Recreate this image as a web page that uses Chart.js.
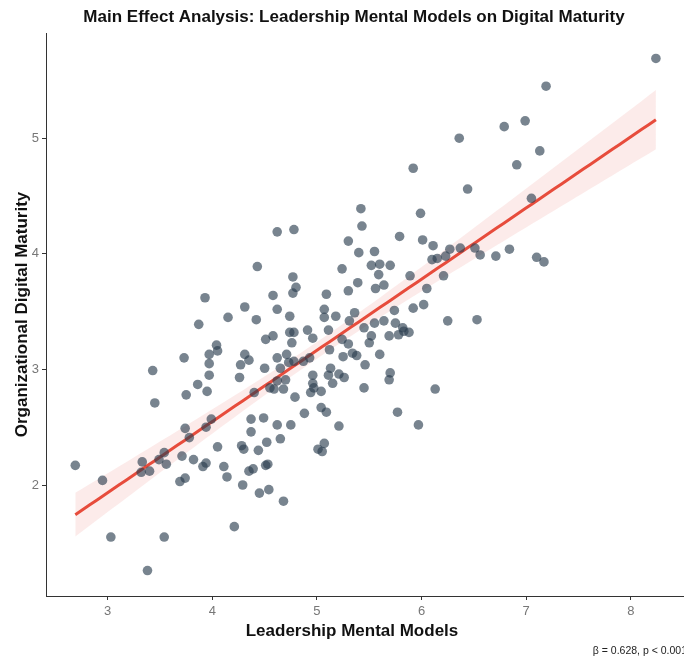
<!DOCTYPE html>
<html>
<head>
<meta charset="utf-8">
<script src="https://cdn.jsdelivr.net/npm/chart.js@4.4.1/dist/chart.umd.min.js"></script>
<style>
    html, body { margin: 0; padding: 0; background: #fff; overflow: hidden; }
    #wrap { width: 690px; height: 659px; }
</style>
</head>
<body>
<div id="wrap"><canvas id="effectChart" width="690" height="659"></canvas></div>
<script>
// Leadership Mental Models (x) vs Organizational Digital Maturity (y)
var leadershipScores = [
    2.69, 2.95, 3.03, 3.38, 3.54, 3.43, 3.45, 3.87, 4.15, 4.42,
    3.73, 3.75, 3.86, 3.95, 3.97, 3.97, 3.97, 4.04, 4.05, 4.31,
    4.27, 4.35, 4.26, 4.40, 3.74, 3.78, 3.94, 3.99, 3.71, 3.82,
    3.91, 3.94, 3.69, 3.74, 4.05, 4.11, 4.14, 4.28, 4.30, 4.37,
    4.37, 4.44, 4.35, 4.39, 4.29, 4.45, 4.21, 3.33, 3.32, 3.40,
    3.49, 3.54, 3.56,
    4.43, 3.93, 4.31, 4.62, 4.78, 4.77, 4.80, 4.77, 4.58, 4.62,
    4.74, 4.51, 4.58, 4.74, 4.78, 4.76, 4.91, 4.50, 4.62, 4.71,
    4.65, 4.73, 4.78, 4.70, 4.62, 4.55, 4.59, 4.68, 4.79, 4.88,
    4.49, 4.62, 4.75, 4.65, 4.52, 4.51, 4.53, 4.54, 4.68,
    5.07, 5.18, 5.31, 5.45, 5.55, 5.64, 5.75, 5.82, 5.78, 5.83,
    5.88, 5.69, 5.52, 5.50, 5.30, 5.24, 6.25, 4.96, 5.11, 4.87,
    4.93, 5.12, 5.25, 5.34, 5.38, 5.46, 5.60, 5.13, 5.11, 5.21,
    5.26, 5.15, 4.96, 4.96, 4.97, 4.94, 5.04, 5.70, 5.69, 5.45,
    6.13, 5.77, 5.97, 5.04, 5.09, 5.21, 5.01, 5.07, 5.05,
    5.92, 6.44, 5.42, 5.99, 5.43, 5.30, 5.79, 6.01, 6.11, 5.40,
    5.55, 5.52, 5.60, 5.70, 5.59, 5.24, 5.39, 5.30, 5.64, 5.56,
    5.89, 6.10, 6.15, 6.23, 6.27, 6.37, 6.21, 6.05, 6.02, 5.92,
    5.09, 5.07, 5.36, 5.74,
    6.36, 6.79, 6.99, 7.13, 6.91, 7.05, 6.51, 6.56, 6.71, 6.84,
    7.10, 7.17, 6.53, 8.24, 7.19
];
var maturityScores = [
    2.17, 2.04, 1.55, 1.26, 1.55, 2.99, 2.71, 3.39, 3.45, 3.43,
    3.10, 2.78, 2.87, 2.81, 2.95, 3.05, 3.13, 3.21, 3.16, 3.13,
    3.04, 3.08, 2.93, 2.80, 2.49, 2.41, 2.50, 2.57, 2.25, 2.22,
    2.16, 2.19, 2.03, 2.06, 2.33, 2.16, 2.07, 2.34, 2.31, 2.57,
    2.46, 2.30, 2.12, 2.14, 2.00, 1.93, 1.64, 2.20, 2.11, 2.12,
    2.22, 2.28, 2.18,
    3.89, 3.62, 3.54, 4.19, 4.21, 3.80, 3.71, 3.66, 3.64, 3.52,
    3.46, 3.26, 3.29, 3.32, 3.32, 3.23, 3.34, 3.01, 3.10, 3.13,
    3.01, 3.06, 3.07, 2.91, 2.90, 2.84, 2.83, 2.83, 2.76, 2.62,
    2.58, 2.52, 2.52, 2.40, 2.37, 2.17, 2.18, 1.96, 1.86,
    3.45, 3.46, 3.42, 3.36, 3.40, 3.42, 3.40, 3.36, 3.30, 3.33,
    3.32, 3.29, 3.29, 3.23, 3.22, 3.26, 3.42, 3.27, 3.34, 3.07,
    3.10, 3.17, 3.11, 3.14, 3.12, 3.04, 3.13, 3.01, 2.95, 2.96,
    2.93, 2.88, 2.95, 2.88, 2.84, 2.80, 2.81, 2.97, 2.91, 2.84,
    2.83, 2.63, 2.52, 2.67, 2.63, 2.51, 2.31, 2.36, 2.29,
    4.74, 4.56, 4.39, 4.35, 4.24, 4.11, 4.15, 4.12, 4.07, 4.01,
    4.02, 3.90, 3.91, 3.90, 3.82, 3.87, 3.75, 3.68, 3.73, 3.70,
    3.81, 3.95, 3.96, 3.98, 4.04, 4.05, 3.81, 3.70, 3.56, 3.53,
    3.65, 3.52, 3.49, 3.51,
    5.00, 5.10, 5.15, 4.89, 4.77, 4.48, 4.05, 3.99, 3.98, 4.04,
    3.97, 3.93, 3.43, 5.69, 5.45
];
var xTickValues = [3, 4, 5, 6, 7, 8];
var yTickValues = [2, 3, 4, 5];
var chartTitle = 'Main Effect Analysis: Leadership Mental Models on Digital Maturity';
var xAxisTitle = 'Leadership Mental Models';
var yAxisTitle = 'Organizational Digital Maturity';
var captionText = '\u03b2 = 0.628, p < 0.001';

(function() {
    var points = leadershipScores.map(function(x, i) { return { x: x, y: maturityScores[i] }; });

    // OLS fit + 95% confidence band (like geom_smooth(method = "lm"))
    var n = points.length;
    var xbar = 0, ybar = 0;
    points.forEach(function(p) { xbar += p.x; ybar += p.y; });
    xbar /= n; ybar /= n;
    var sxx = 0, sxy = 0;
    points.forEach(function(p) { sxx += (p.x - xbar) * (p.x - xbar); sxy += (p.x - xbar) * (p.y - ybar); });
    var slope = sxy / sxx;
    var intercept = ybar - slope * xbar;
    var sse = 0;
    points.forEach(function(p) { var r = p.y - (intercept + slope * p.x); sse += r * r; });
    var s = Math.sqrt(sse / (n - 2));
    var tCrit = 1.973;

    var xMin = Math.min.apply(null, leadershipScores);
    var xMax = Math.max.apply(null, leadershipScores);
    var fitLine = [], bandLow = [], bandHigh = [];
    var steps = 80;
    for (var k = 0; k <= steps; k++) {
        var xv = xMin + (xMax - xMin) * k / steps;
        var yhat = intercept + slope * xv;
        var se = s * Math.sqrt(1 / n + (xv - xbar) * (xv - xbar) / sxx);
        fitLine.push({ x: xv, y: yhat });
        bandLow.push({ x: xv, y: yhat - tCrit * se });
        bandHigh.push({ x: xv, y: yhat + tCrit * se });
    }

    // title, x-axis title and caption sit off-centre in the original, so draw them by hand
    var textPlugin = {
        id: 'textPlugin',
        afterDraw: function(chart) {
            var ctx = chart.ctx;
            ctx.save();
            ctx.fillStyle = '#111';
            ctx.textAlign = 'center';
            ctx.textBaseline = 'middle';
            ctx.font = 'bold 17px "Liberation Sans Narrow", "Arial Narrow", "Liberation Sans", sans-serif';
            ctx.fillText(chartTitle, 354, 17);
            ctx.font = 'bold 17px "Liberation Sans", Arial, sans-serif';
            ctx.fillText(xAxisTitle, 352, 631);
            ctx.fillStyle = '#222';
            ctx.textAlign = 'right';
            ctx.font = '10.5px "Liberation Sans", Arial, sans-serif';
            ctx.fillText(captionText, 687, 651);
            ctx.restore();
        }
    };

    var axisColor = '#333333';
    var tickFont = { family: '"Liberation Sans", Arial, sans-serif', size: 13 };
    var titleFont = { family: '"Liberation Sans", Arial, sans-serif', size: 17, weight: 'bold' };

    new Chart(document.getElementById('effectChart'), {
        type: 'scatter',
        data: {
            datasets: [{
                label: 'Observations',
                data: points,
                backgroundColor: 'rgba(44, 62, 80, 0.64)',
                borderWidth: 0,
                pointRadius: 4.8,
                order: 0
            }, {
                type: 'line',
                label: 'CI low',
                data: bandLow,
                borderWidth: 0,
                pointRadius: 0,
                fill: false,
                order: 3
            }, {
                type: 'line',
                label: 'CI high',
                data: bandHigh,
                borderWidth: 0,
                pointRadius: 0,
                backgroundColor: 'rgba(231, 76, 60, 0.11)',
                fill: '-1',
                order: 2
            }, {
                type: 'line',
                label: 'Fit',
                data: fitLine,
                borderColor: '#e74c3c',
                borderWidth: 3,
                pointRadius: 0,
                fill: false,
                order: 1
            }]
        },
        options: {
            responsive: false,
            animation: false,
            devicePixelRatio: 1,
            layout: { padding: { left: 0, right: 4, top: 33, bottom: 0 } },
            plugins: {
                legend: { display: false },
                tooltip: { enabled: false },
                title: { display: false }
            },
            scales: {
                x: {
                    type: 'linear',
                    min: 2.41,
                    max: 8.52,
                    afterBuildTicks: function(scale) {
                        scale.ticks = xTickValues.map(function(v) { return { value: v }; });
                    },
                    afterFit: function(scale) { scale.height = 63; },
                    ticks: { color: '#777', font: tickFont, padding: 4 },
                    grid: { drawOnChartArea: false, drawTicks: true, tickLength: 4, tickColor: axisColor, tickWidth: 1 },
                    border: { display: true, color: axisColor, width: 1 },
                    title: { display: false, text: xAxisTitle }
                },
                y: {
                    type: 'linear',
                    min: 1.04,
                    max: 5.91,
                    afterBuildTicks: function(scale) {
                        scale.ticks = yTickValues.map(function(v) { return { value: v }; });
                    },
                    afterFit: function(scale) { scale.width = 46; },
                    ticks: { color: '#777', font: tickFont, padding: 3 },
                    grid: { drawOnChartArea: false, drawTicks: true, tickLength: 4, tickColor: axisColor, tickWidth: 1 },
                    border: { display: true, color: axisColor, width: 1 },
                    title: { display: true, text: yAxisTitle, color: '#111', font: titleFont, padding: { top: 11.8, bottom: 0 } }
                }
            }
        },
        plugins: [textPlugin]
    });
})();
</script>
</body>
</html>
